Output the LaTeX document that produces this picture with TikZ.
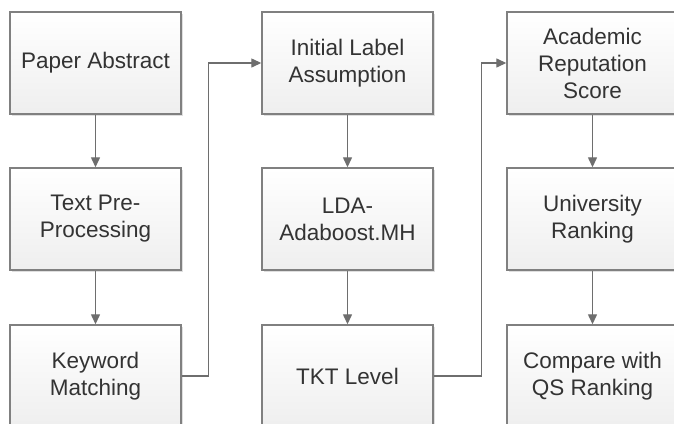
\documentclass[tikz,border=0pt]{standalone}
\usepackage{fontspec}
\setmainfont{Liberation Sans}
\usetikzlibrary{arrows.meta,shadows}
\definecolor{boxline}{HTML}{808080}
\definecolor{arrowc}{HTML}{6E6E6E}
\definecolor{txt}{HTML}{333333}
\begin{document}
\begin{tikzpicture}[x=1pt,y=-1pt,
  stepbox/.style={draw=boxline, line width=1.4pt, top color=white, bottom color=gray!13,
    minimum width=171pt, minimum height=102pt, inner sep=0pt, align=center,
    text=txt, font=\fontsize{22.5pt}{27pt}\selectfont,
    drop shadow={shadow xshift=1.5pt, shadow yshift=-1.5pt, opacity=0.25, fill=gray}},
  conn/.style={draw=arrowc, line width=1.3pt, -{Triangle[length=10pt,width=9pt]}}]
\useasboundingbox (0,0) rectangle (674,423);
\node[stepbox] (pa) at (95.5,63) {Paper Abstract};
\node[stepbox] (tp) at (95.5,219) {Text Pre-\\Processing};
\node[stepbox] (km) at (95.5,376) {Keyword\\Matching};
\node[stepbox] (ila) at (347.5,63) {Initial Label\\Assumption};
\node[stepbox] (lda) at (347.5,219) {LDA-\\Adaboost.MH};
\node[stepbox] (tkt) at (347.5,376) {TKT Level};
\node[stepbox] (ars) at (592.5,63) {Academic\\Reputation\\Score};
\node[stepbox] (ur) at (592.5,219) {University\\Ranking};
\node[stepbox] (cqs) at (592.5,376) {Compare with\\QS Ranking};
\draw[conn] (pa) -- (tp);
\draw[conn] (tp) -- (km);
\draw[conn] (ila) -- (lda);
\draw[conn] (lda) -- (tkt);
\draw[conn] (ars) -- (ur);
\draw[conn] (ur) -- (cqs);
\draw[conn] (km.east) -- ++(27,0) |- (ila.west);
\draw[conn] (tkt.east) -- ++(48,0) |- (ars.west);
\end{tikzpicture}
\end{document}
